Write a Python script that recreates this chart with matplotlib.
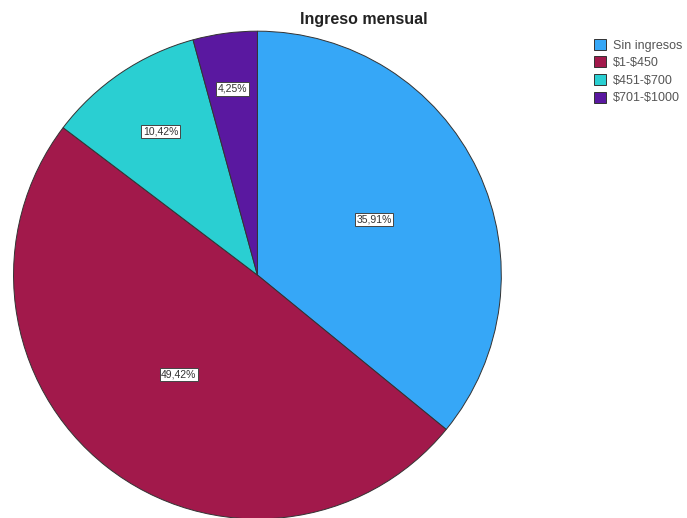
import numpy as np
import matplotlib
matplotlib.use("Agg")
import matplotlib.pyplot as plt

plt.rcParams['font.family'] = ['Liberation Sans', 'DejaVu Sans']
plt.rcParams['text.parse_math'] = False

# datos del gráfico
categorias = ['Sin ingresos', '$1-$450', '$451-$700', '$701-$1000']
porcentajes = [35.91, 49.42, 10.42, 4.25]
colores = ['#36A7F7', '#A2194B', '#2ACFD2', '#5A18A0']
# distancia relativa de cada etiqueta al centro
dist_etiqueta = [0.53, 0.52, 0.71, 0.77]

fig = plt.figure(figsize=(6.87, 5.18), dpi=100)
ax = fig.add_axes([0.0197, -0.002, 0.710, 0.942])
wedges, _ = ax.pie(porcentajes, colors=colores, startangle=90, counterclock=False,
                   radius=1, wedgeprops=dict(edgecolor='#333333', linewidth=0.7))
ax.set_xlim(-1, 1)
ax.set_ylim(-1, 1)
ax.set_aspect('equal')

# etiquetas con porcentaje en cajas blancas
for w, p, d in zip(wedges, porcentajes, dist_etiqueta):
    ang = np.deg2rad((w.theta1 + w.theta2) / 2)
    x, y = d * np.cos(ang), d * np.sin(ang)
    txt = f"{p:.2f}%".replace('.', ',')
    ax.text(x, y, txt, ha='center', va='center', fontsize=7.5, color='#333333',
            bbox=dict(boxstyle='square,pad=0.15', fc='white', ec='#444444', lw=0.7))

fig.text(0.530, 0.962, 'Ingreso mensual', ha='center', va='center',
         fontsize=11.5, fontweight='bold', color='#222222')

leg = fig.legend(wedges, categorias, loc='upper left', bbox_to_anchor=(0.858, 0.935),
                 frameon=False, fontsize=9, handlelength=0.9, handleheight=1.0,
                 handletextpad=0.55, labelspacing=0.38, borderaxespad=0,
                 labelcolor='#555555')

fig.savefig('out.png', dpi=100)
